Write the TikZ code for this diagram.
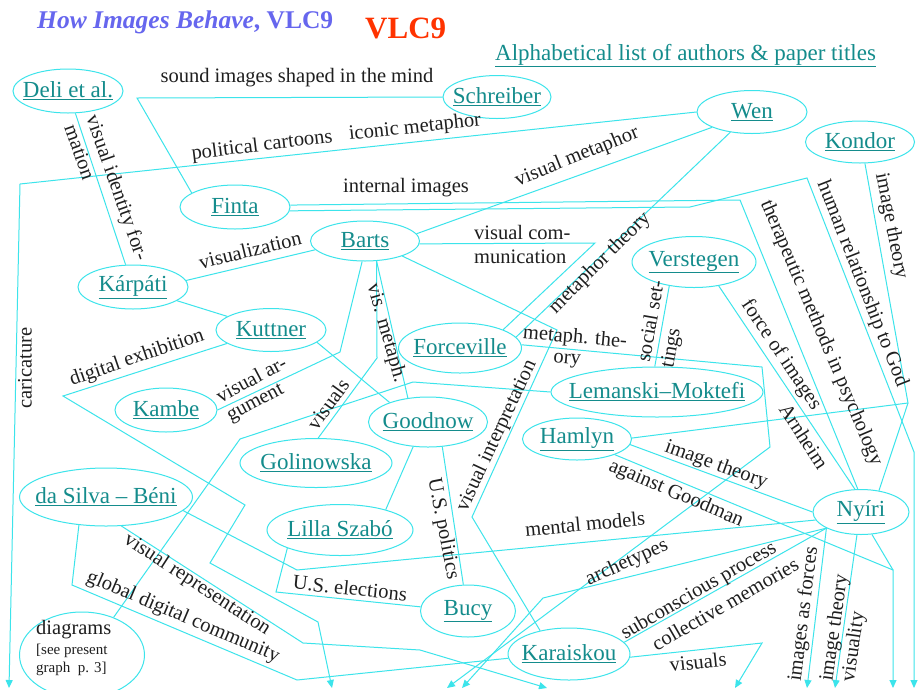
\documentclass[tikz,border=0pt]{standalone}
\usepackage{fontspec}
\setmainfont{Liberation Serif}
\usetikzlibrary{shapes.geometric,arrows.meta}
\definecolor{lcol}{RGB}{60,228,235}
\definecolor{tcol}{RGB}{20,140,140}
\definecolor{titleblue}{RGB}{102,102,238}
\definecolor{vlcred}{RGB}{255,51,0}
\newcommand{\nf}{\fontsize{23}{26}\selectfont}
\newcommand{\lf}{\fontsize{20.5}{23}\selectfont}
\newcommand{\nt}[1]{\makebox[0pt]{\underline{#1}}}
\begin{document}
\begin{tikzpicture}[x=1pt,y=-1pt,
 aut/.style={ellipse,draw=lcol,line width=1pt,inner sep=0pt,text=tcol,font=\nf},
 lab/.style={inner sep=0pt,font=\lf,text=black!88},
 con/.style={draw=lcol,line width=1pt},
 arr/.style={con,-{Triangle[width=7pt,length=8pt]}}]
\useasboundingbox (0,0) rectangle (918,689);
\fill[white] (0,0) rectangle (918,689);

% titles
\node[anchor=base west,inner sep=0pt,text=titleblue,font=\fontsize{25.5}{28}\selectfont\bfseries] (title) at (37,28) {\textit{How Images Behave}, VLC9};
\node[anchor=base west,inner sep=0pt,text=vlcred,font=\fontsize{31}{34}\selectfont\bfseries] (vlc) at (365,38) {VLC9};
\node[anchor=base west,inner sep=0pt,text=tcol,font=\nf] (alpha) at (495,60) {\underline{Alphabetical list of authors \& paper titles}};

% author nodes
\node[aut,minimum width=110pt,minimum height=44pt] (Deli) at (68,91) {\nt{Deli et al.}};
\node[aut,minimum width=108pt,minimum height=43pt] (Schreiber) at (497,97) {\nt{Schreiber}};
\node[aut,minimum width=110pt,minimum height=43pt] (Wen) at (752,112) {\nt{Wen}};
\node[aut,minimum width=109pt,minimum height=42pt] (Kondor) at (860,142) {\nt{Kondor}};
\node[aut,minimum width=110pt,minimum height=44pt] (Finta) at (235,207) {\nt{Finta}};
\node[aut,minimum width=109pt,minimum height=40pt] (Barts) at (365,241) {\nt{Barts}};
\node[aut,minimum width=110pt,minimum height=44pt] (Karpati) at (133,287) {\nt{Kárpáti}};
\node[aut,minimum width=110pt,minimum height=43pt] (Kuttner) at (271,330) {\nt{Kuttner}};
\node[aut,minimum width=102pt,minimum height=44pt] (Kambe) at (166,410) {\nt{Kambe}};
\node[aut,minimum width=123pt,minimum height=50pt] (Forceville) at (460,348) {\nt{Forceville}};
\node[aut,minimum width=124pt,minimum height=51pt] (Verstegen) at (694,262) {\nt{Verstegen}};
\node[aut,minimum width=212pt,minimum height=50pt] (Lemanski) at (657,392) {\nt{Lemanski–Moktefi}};
\node[aut,minimum width=119pt,minimum height=50pt] (Goodnow) at (428,422) {\nt{Goodnow}};
\node[aut,minimum width=109pt,minimum height=42pt] (Hamlyn) at (577,439) {\nt{Hamlyn}};
\node[aut,minimum width=152pt,minimum height=49pt] (Golinowska) at (316,463) {\nt{Golinowska}};
\node[aut,minimum width=173pt,minimum height=58pt] (daSilva) at (106,497) {\nt{da Silva – Béni}};
\node[aut,minimum width=146pt,minimum height=51pt] (Lilla) at (340,530) {\nt{Lilla Szabó}};
\node[aut,minimum width=95pt,minimum height=52pt] (Bucy) at (468,611) {\nt{Bucy}};
\node[aut,minimum width=122pt,minimum height=52pt] (Karaiskou) at (569,654) {\nt{Karaiskou}};
\node[aut,minimum width=96pt,minimum height=45pt] (Nyiri) at (861,512) {\nt{Nyíri}};
\node[aut,minimum width=125pt,minimum height=86pt] (diag) at (82,655) {};
\node[lab,anchor=west] (d1) at (36,630) {diagrams};
\node[lab,anchor=west,font=\fontsize{15}{17}\selectfont] (d2) at (36,651) {[see present};
\node[lab,anchor=west,font=\fontsize{15}{17}\selectfont] (d3) at (36,669) {graph~~p. 3]};

% arrow end points
\coordinate (a1) at (9,688);
\coordinate (a2) at (332,688);
\coordinate (a3) at (447,688);
\coordinate (a4) at (462,688);
\coordinate (a5) at (547,688);
\coordinate (a6) at (735,688);
\coordinate (a7) at (807,688);
\coordinate (a8) at (835,688);
\coordinate (a9) at (893,688);
\coordinate (a10) at (914,688);

% connectors
\draw[con] (Schreiber.west) -- (137,98) -- (Finta.162);
\draw[arr] (Wen.west) -- (20,184) -- (a1);
\draw[con] (Wen.201) -- (Barts.8);
\draw[con] (Wen.223) -- (Forceville.11);
\draw[con] (Barts.357) -- (595,243) -- (Forceville.23);
\draw[con] (Finta.2) -- (740,200) -- (Nyiri.98);
\draw[arr] (Finta.356) -- (690,207) -- (807,178) -- (914,452) -- (a10);
\draw[con] (Kondor.283) -- (908,403) -- (Nyiri.50);
\draw[con] (Hamlyn.1) -- (908,403);
\draw[con] (Verstegen.316) -- (Nyiri.105);
\draw[con] (Verstegen.224) -- (Lemanski.95);
\draw[con] (Hamlyn.354) -- (Nyiri.west);
\draw[arr] (Hamlyn) -- (893,570) -- (a9);
\draw[con] (Nyiri.296) -- (893,570);
\draw[arr] (Nyiri.205) -- (543,598) -- (a4);
\draw[con] (Nyiri.205) -- (Karaiskou.12);
\draw[arr] (Nyiri.205) -- (a7);
\draw[arr] (Nyiri.260) -- (a8);
\draw[arr] (Forceville.3) -- (762,367) -- (770,447) -- (a3);
\draw[con] (Barts.338) -- (557,330) -- (472,517) -- (Karaiskou.141);
\draw[con] (Barts.262) -- (340,352) -- (Kambe.east);
\draw[con] (Barts.300) -- (377,358) -- (Golinowska.85);
\draw[con] (Barts.300) -- (Goodnow.130);
\draw[con] (Barts.190) -- (Karpati.7);
\draw[con] (Deli) -- (Karpati);
\draw[con] (Karpati) -- (Kuttner);
\draw[arr] (Kuttner.197) -- (63,396) -- (245,505) -- (210,563) -- (318,622) -- (a2);
\draw[con] (Kuttner.345) -- (Goodnow.153);
\draw[con] (Lemanski.west) -- (413,382) -- (240,439) -- (diag.50);
\draw[con] (Goodnow.300) -- (Bucy.100);
\draw[con] (Goodnow.239) -- (Lilla.24);
\draw[con] (Lilla.199) -- (276,592) -- (Bucy.175);
\draw[con] (daSilva.350) -- (297,570) -- (Nyiri.190);
\draw[arr] (daSilva.298) -- (303,643) -- (420,650) -- (a5);
\draw[con] (daSilva.226) -- (72,585) -- (297,680) -- (Karaiskou.184);
\draw[arr] (Karaiskou.357) -- (762,643) -- (a6);

% labels
\node[lab] (l1) at (297,78) {sound images shaped in the mind};
\node[lab,rotate=7] (l2) at (262,146) {political cartoons};
\node[lab,rotate=6] (l3) at (415,128) {iconic metaphor};
\node[lab,rotate=22] (l4) at (577,157) {visual metaphor};
\node[lab] (l5) at (406,188) {internal images};
\node[lab,rotate=-70.6] (l6) at (116,188) {visual identity for-};
\node[lab,rotate=-70.6] (l7) at (80,152) {mation};
\node[lab,rotate=13.7] (l8) at (250,250) {visualization};
\node[lab,anchor=west] (l9) at (474,232) {visual com-};
\node[lab,anchor=west] (l10) at (474,257) {munication};
\node[lab,rotate=45] (l11) at (600,263) {metaphor theory};
\node[lab,rotate=-5] (l12) at (575,338) {metaph. the-};
\node[lab,rotate=-5] (l13) at (567,361) {ory};
\node[lab,rotate=80] (l14) at (650,321) {social set-};
\node[lab,rotate=80] (l15) at (672,348) {tings};
\node[lab,rotate=-74] (l16) at (386,333) {vis. metaph.};
\node[lab,rotate=54] (l17) at (328,404) {visuals};
\node[lab,rotate=28] (l18) at (251,379) {visual ar-};
\node[lab,rotate=28] (l19) at (256,404) {gument};
\node[lab,rotate=19] (l20) at (137,358) {digital exhibition};
\node[lab,rotate=90] (l21) at (25,368) {caricature};
\node[lab,rotate=65] (l22) at (497,436) {visual interpretation};
\node[lab,rotate=-79] (l23) at (443,529) {U.S. politics};
\node[lab,rotate=-6] (l24) at (350,588) {U.S. elections};
\node[lab,rotate=5.5] (l25) at (585,524) {mental models};
\node[lab,rotate=-33] (l26) at (197,585) {visual representation};
\node[lab,rotate=-23] (l27) at (183,617) {global digital community};
\node[lab,rotate=24] (l28) at (627,563) {archetypes};
\node[lab,rotate=30] (l29) at (699,591) {subconscious process};
\node[lab,rotate=30] (l30) at (725,604) {collective memories};
\node[lab,rotate=6] (l31) at (698,662) {visuals};
\node[lab,rotate=83] (l32) at (804,614) {images as forces};
\node[lab,rotate=82] (l33) at (835,628) {image theory};
\node[lab,rotate=82] (l34) at (854,647) {visuality};
\node[lab,rotate=-20] (l35) at (716,465) {image theory};
\node[lab,rotate=-23] (l36) at (676,494) {against Goodman};
\node[lab,rotate=-56] (l37) at (781,355) {force of images};
\node[lab,rotate=-57] (l38) at (804,436) {Arnheim};
\node[lab,rotate=-67] (l39) at (821,333) {therapeutic methods in psychology};
\node[lab,rotate=-68.5] (l40) at (862,284) {human relationship to God};
\node[lab,rotate=-79] (l41) at (891,226) {image theory};
\end{tikzpicture}
\end{document}
